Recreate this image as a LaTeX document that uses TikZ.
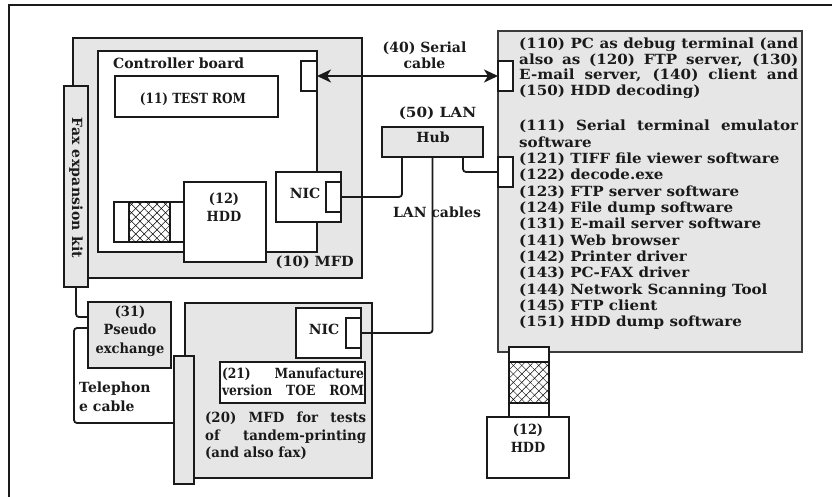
\documentclass[tikz,border=0pt]{standalone}
\usepackage{fontspec}
\setmainfont{DejaVu Serif}
\usetikzlibrary{arrows.meta,patterns.meta,fit}
\definecolor{gfill}{HTML}{E6E6E6}
\definecolor{ln}{HTML}{1A1A1A}
\newcommand\fsz[1]{\fontsize{14}{#1}\selectfont\bfseries}
\newcommand\strx[1]{\addfontfeature{FakeStretch=#1}}
\begin{document}
\begin{tikzpicture}[x=1pt,y=-1pt,font=\fsz{16},
  bx/.style={draw=ln,line width=1.1pt,inner sep=0pt,outer sep=0pt},
  gb/.style={bx,fill=gfill},
  wb/.style={bx,fill=white},
  heavy/.style={line width=2.5pt},
  hatchA/.style={pattern={Lines[angle=45,distance=6pt,line width=0.45pt]}},
  hatchB/.style={pattern={Lines[angle=-45,distance=6pt,line width=0.45pt]}},
  lan/.style={draw=ln,line width=1.8pt,rounded corners=3pt},
  lbl/.style={inner sep=0pt,text=ln},
  pcl/.style={lbl,anchor=base west,font=\fsz{16}\strx{1.08}}]
\useasboundingbox (0,0) rectangle (832,497);
\draw[ln,line width=2pt] (9,497) -- (9,5) -- (832,5);
% MFD 10
\node[gb,heavy,fit={(73,38)(362,278)}] (mfdA) {};
\node[wb,line width=1.3pt,fit={(98,51)(317,252)}] (ctrl) {};
\node[wb,fit={(301,61)(317,91)}] (serA) {};
\node[wb,fit={(115,76)(278,117)}] (rom) {};
\node[wb,fit={(114,202)(184,242)}] (stripA) {};
\node[bx,hatchA,fit={(129,202)(170,242)}] (hatA) {};
\path[hatchB] (hatA.north west) rectangle (hatA.south east);
\node[wb,fit={(184,182)(266,262)}] (hddA) {};
\node[wb,fit={(276,172)(341,222)}] (nicA) {};
\node[wb,fit={(326,182)(341,212)}] (portA) {};
\node[gb,fit={(64,86)(88,287)}] (faxA) {};
% hub and PC
\node[gb,fit={(382,127)(483,157)}] (hub) {};
\node[gb,draw=ln!85,fit={(498,31)(802,352)}] (pc) {};
\node[wb,fit={(498,61)(513,91)}] (pcser) {};
\node[wb,fit={(498,157)(513,187)}] (pclan) {};
\node[wb,fit={(509,347)(549,417)}] (stripB) {};
\node[bx,hatchA,fit={(509,362)(549,403)}] (hatB) {};
\path[hatchB] (hatB.north west) rectangle (hatB.south east);
\node[wb,fit={(487,417)(569,478)}] (hddB) {};
% pseudo exchange and MFD 20
\node[gb,fit={(88,302)(171,368)}] (pse) {};
\node[gb,heavy,fit={(185,303)(372,478)}] (mfdB) {};
\node[gb,fit={(174,356)(194,484)}] (faxB) {};
\node[wb,fit={(296,308)(361,358)}] (nicB) {};
\node[wb,fit={(346,318)(361,348)}] (portB) {};
\node[wb,fit={(220,362)(365,403)}] (toe) {};
% labels
\node[lbl,align=center] (serlbl) at (424.5,55) {(40) Serial\\cable};
\node[lbl,font=\fsz{16}\strx{1.09}] (hublbl) at (437.5,113) {(50) LAN};
\node[lbl] (hubtxt) at (433,137) {Hub};
\node[lbl] (lanlbl) at (437,212) {LAN cables};
\node[lbl,anchor=east,font=\fsz{16}\strx{1.04}] (mfdAlbl) at (354,262) {(10) MFD};
\node[lbl,anchor=west] (ctrllbl) at (113,63) {Controller board};
\node[lbl,font=\fsz{16}\strx{0.86}] (romlbl) at (193,99) {(11) TEST ROM};
\node[lbl,align=center,font=\fsz{18}\strx{0.92}] (hddAlbl) at (224,207) {(12)\\HDD};
\node[lbl] (nicAlbl) at (305,193) {NIC};
\node[lbl,rotate=-90,font=\fsz{16}\addfontfeature{LetterSpace=2}] (faxAlbl) at (76,188) {Fax expansion kit};
\node[lbl,align=center,font=\fsz{18.5}\strx{0.93}] (pselbl) at (130,331) {(31)\\Pseudo\\exchange};
\node[lbl,align=left,anchor=west,font=\fsz{19}] (tellbl) at (79,397) {Telephon\\e cable};
\node[lbl] (nicBlbl) at (324,329) {NIC};
\node[lbl,align=left,font=\fsz{17}\strx{0.88}] (toelbl) at (293,382) {\makebox[142pt][s]{(21) Manufacture}\\\makebox[142pt][s]{version TOE ROM}};
\node[lbl,align=left,anchor=west,font=\fsz{17.5}\strx{0.95}] (mfdBlbl) at (205,436) {\makebox[161pt][s]{(20) MFD for tests}\\\makebox[161pt][s]{of tandem-printing}\\(and also fax)};
\node[lbl,align=center,font=\fsz{18}\strx{0.92}] (hddBlbl) at (528,438) {(12)\\HDD};
% PC text
\node[pcl] (p1) at (519,48.5) {\makebox[279pt][s]{(110) PC as debug terminal (and}};
\node[pcl] (p2) at (519,64.1) {\makebox[279pt][s]{also as (120) FTP server, (130)}};
\node[pcl] (p3) at (519,79.7) {\makebox[279pt][s]{E-mail server, (140) client and}};
\node[pcl] (p4) at (519,95.3) {(150) HDD decoding)};
\node[pcl] (q0) at (519,131) {\makebox[279pt][s]{(111) Serial terminal emulator}};
\foreach \t [count=\i from 1] in {software,(121) TIFF file viewer software,(122) decode.exe,(123) FTP server software,(124) File dump software,(131) E-mail server software,(141) Web browser,(142) Printer driver,(143) PC-FAX driver,(144) Network Scanning Tool,(145) FTP client,(151) HDD dump software}
  \node[pcl] (q\i) at (519,{131+16.3*\i}) {\t};
% connectors
\draw[ln,line width=2pt,{Stealth[length=14pt,width=13pt,inset=4pt]}-{Stealth[length=14pt,width=13pt,inset=4pt]}] (serA.east) -- (pcser.west);
\draw[lan] (portA.east) -| ([xshift=20pt]hub.south west);
\draw[lan] (hub.south) |- (portB.east);
\draw[lan] ([xshift=-20pt]hub.south east) |- (pclan.west);
\draw[lan] (faxA.south) |- ([yshift=-15pt]pse.north west);
\coordinate (tc) at (74,423);
\draw[lan] ([yshift=-26pt]pse.north west) -| (tc) -- (tc -| faxB.west);
\end{tikzpicture}
\end{document}
